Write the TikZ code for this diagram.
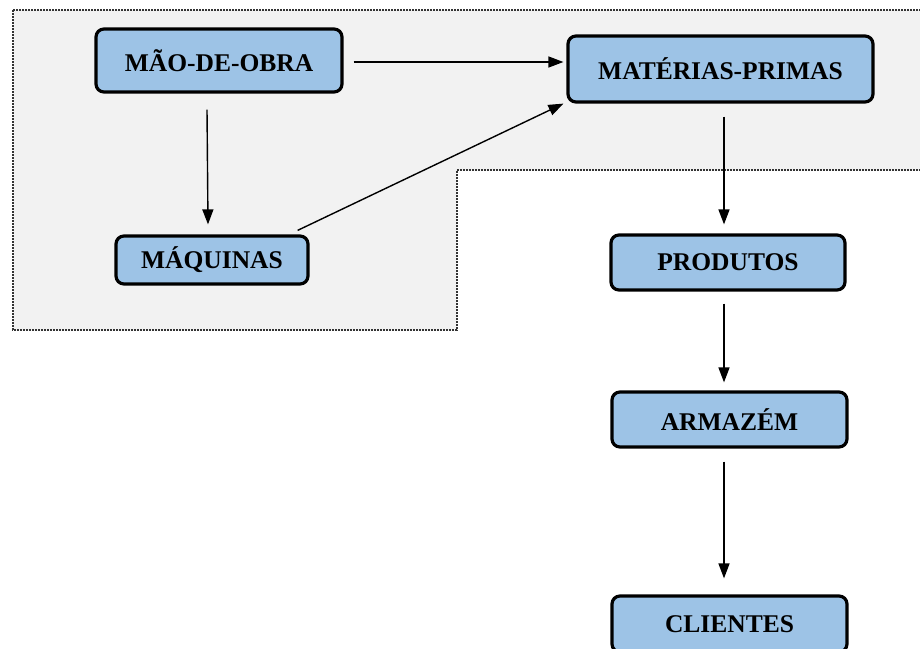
\documentclass[tikz,border=0pt]{standalone}
\usepackage{fontspec}
\setmainfont{Liberation Serif}
\usetikzlibrary{arrows.meta}
\definecolor{boxblue}{RGB}{157,195,230}
\definecolor{panel}{RGB}{242,242,242}
\tikzset{
  flowbox/.style={draw=black, line width=3.2pt, rounded corners=8pt, fill=boxblue,
    inner sep=0pt, font=\fontsize{25.5}{28}\selectfont\bfseries, text=black},
  flowarrow/.style={line width=1.4pt, -{Triangle[length=15pt,width=11pt]}},
  panelborder/.style={draw=black!80, line width=1.3pt, dash pattern=on 2pt off 1pt, fill=panel}
}
\begin{document}
\begin{tikzpicture}[x=1pt,y=-1pt]
\useasboundingbox (0,0) rectangle (920,648);
\begin{scope}
\clip (0,0) rectangle (920,648);
\filldraw[panelborder] (13,10) -- (924,10) -- (924,170) -- (457,170) -- (457,330) -- (13,330) -- cycle;
\end{scope}
\node[flowbox, minimum width=246pt, minimum height=63pt] (mao) at (219,60.5) {MÃO-DE-OBRA};
\node[flowbox, minimum width=305pt, minimum height=66pt] (mat) at (720.5,69) {MATÉRIAS-PRIMAS};
\node[flowbox, minimum width=192pt, minimum height=48pt] (maq) at (212,260) {MÁQUINAS};
\node[flowbox, minimum width=234pt, minimum height=55pt] (prod) at (728,262.5) {PRODUTOS};
\node[flowbox, minimum width=235pt, minimum height=55pt] (arm) at (729.5,419.5) {ARMAZÉM};
\node[flowbox, minimum width=235pt, minimum height=56pt] (cli) at (729.5,624) {CLIENTES};
\draw[flowarrow] ([xshift=10pt,yshift=-1.5pt]mao.east) -- ([xshift=-3pt,yshift=-1.5pt]mao.east -| mat.west);
\draw[flowarrow] ([xshift=-12pt,yshift=-16pt]mao.south) -- ([xshift=-4pt,yshift=10pt]maq.north);
\draw[flowarrow] ([xshift=-12pt,yshift=4pt]maq.north east) -- ([xshift=-3pt]mat.south west);
\draw[flowarrow] ([xshift=3.5pt,yshift=-13pt]mat.south) -- ([xshift=-4pt,yshift=9pt]prod.north);
\draw[flowarrow] ([xshift=-4pt,yshift=-12pt]prod.south) -- ([xshift=-5.5pt,yshift=8pt]arm.north);
\draw[flowarrow] ([xshift=-5.5pt,yshift=-13pt]arm.south) -- ([xshift=-5.5pt,yshift=16pt]cli.north);
\end{tikzpicture}
\end{document}
